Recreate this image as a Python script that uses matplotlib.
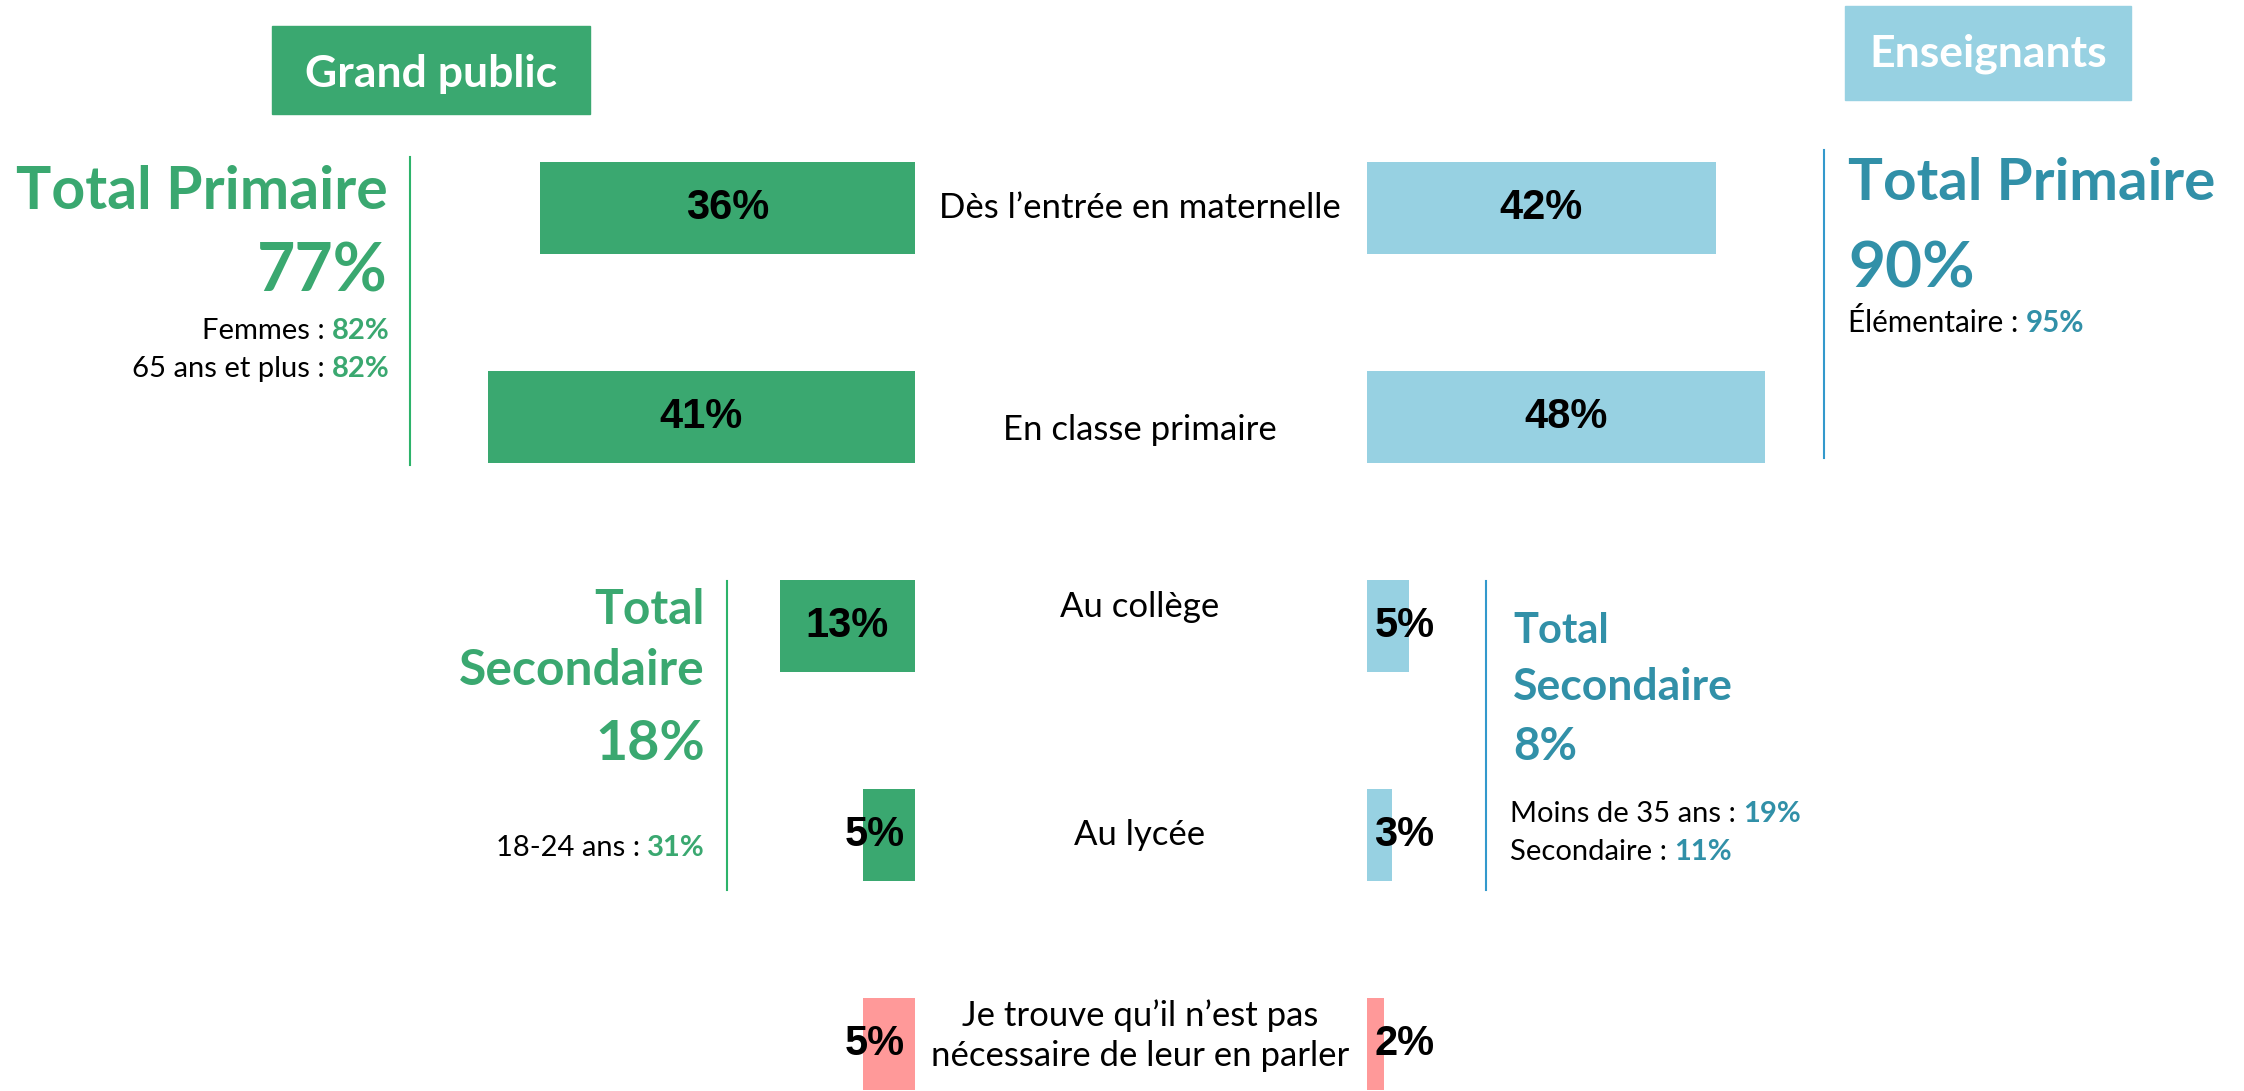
import matplotlib
matplotlib.use("Agg")
import matplotlib.pyplot as plt
from matplotlib.lines import Line2D
from matplotlib.transforms import blended_transform_factory

# survey answers, one row per moment
categories = [
    "Dès l’entrée en maternelle",
    "En classe primaire",
    "Au collège",
    "Au lycée",
    "Je trouve qu’il n’est pas\nnécessaire de leur en parler",
]
grand_public = [36, 41, 13, 5, 5]
enseignants = [42, 48, 5, 3, 2]

GREEN = "#3AA870"
GREEN_LINE = "#2DB36A"
BLUE = "#97D1E2"
TEAL = "#3190A8"
BLUE_LINE = "#3399CC"
PINK = "#FF9999"

TEXT_FONT = ["Lato", "DejaVu Sans"]
LABEL_FONT = ["Liberation Sans", "DejaVu Sans"]

W, H = 2244, 1091


def fx(x):
    return x / W


def fy(y):
    return 1 - y / H


def split_text(fig, x, y, prefix, value, color, size, align="right"):
    # "prefix : " in black followed by a bold coloured value
    if align == "right":
        t = fig.text(fx(x), fy(y), value, ha="right", va="bottom", color=color,
                     fontsize=size, fontweight="bold", family=TEXT_FONT)
        fig.add_artist(plt.Annotation(prefix, xy=(0, 0), xycoords=t, ha="right", va="bottom",
                                      fontsize=size, family=TEXT_FONT, color="black"))
    else:
        t = fig.text(fx(x), fy(y), prefix, ha="left", va="bottom", color="black",
                     fontsize=size, family=TEXT_FONT)
        fig.add_artist(plt.Annotation(value, xy=(1, 0), xycoords=t, ha="left", va="bottom",
                                      fontsize=size, fontweight="bold", family=TEXT_FONT,
                                      color=color))


def main():
    fig = plt.figure(figsize=(W / 100, H / 100), dpi=100)
    rows = list(range(len(categories)))
    ylim = (4.225, -0.995)

    # left chart: grand public, bars grow leftwards from x=915 px
    ax_gp = fig.add_axes([0, 0, fx(915), 1])
    colors_gp = [GREEN] * 4 + [PINK]
    ax_gp.barh(rows, grand_public, height=0.44, color=colors_gp)
    ax_gp.set_xlim(915 / 10.42, 0)
    ax_gp.set_ylim(*ylim)
    ax_gp.axis("off")
    for r, v in zip(rows, grand_public):
        if v >= 10:
            ax_gp.text(v / 2, r, f"{v}%", ha="center", va="center", fontsize=30,
                       fontweight="bold", family=LABEL_FONT)
        else:
            ax_gp.text(1.0, r, f"{v}%", ha="right", va="center", fontsize=30,
                       fontweight="bold", family=LABEL_FONT)

    # right chart: enseignants, bars grow rightwards from x=1367 px
    ax_en = fig.add_axes([fx(1367), 0, 1 - fx(1367), 1])
    colors_en = [BLUE] * 4 + [PINK]
    ax_en.barh(rows, enseignants, height=0.44, color=colors_en)
    ax_en.set_xlim(0, (W - 1367) / 8.3)
    ax_en.set_ylim(*ylim)
    ax_en.axis("off")
    for r, v in zip(rows, enseignants):
        if v >= 10:
            ax_en.text(v / 2, r, f"{v}%", ha="center", va="center", fontsize=30,
                       fontweight="bold", family=LABEL_FONT)
        else:
            ax_en.text(0.9, r, f"{v}%", ha="left", va="center", fontsize=30,
                       fontweight="bold", family=LABEL_FONT)

    # category labels in the middle
    trans = blended_transform_factory(fig.transFigure, ax_gp.transData)
    label_shift = [0.0, 0.06, -0.09, 0.0, -0.04]
    for r, name, dy in zip(rows, categories, label_shift):
        fig.text(fx(1140), r + dy, name, transform=trans, ha="center", va="center",
                 fontsize=25, family=TEXT_FONT, linespacing=1.3)

    # headers
    fig.add_artist(plt.Rectangle((fx(272), fy(114)), fx(318), 88 / H, color=GREEN,
                                 transform=fig.transFigure))
    fig.text(fx(431), fy(87), "Grand public", ha="center", va="baseline", color="white",
             fontsize=32, fontweight="bold", family=TEXT_FONT)
    fig.add_artist(plt.Rectangle((fx(1845), fy(100)), fx(286), 94 / H, color=BLUE,
                                 transform=fig.transFigure))
    fig.text(fx(1988), fy(67), "Enseignants", ha="center", va="baseline", color="white",
             fontsize=32, fontweight="bold", family=TEXT_FONT)

    # separators
    for x, y0, y1, c in [(410, 157, 465, GREEN_LINE), (727, 581, 890, GREEN_LINE),
                         (1824, 150, 458, BLUE_LINE), (1486, 581, 890, BLUE_LINE)]:
        fig.add_artist(Line2D([fx(x), fx(x)], [fy(y0), fy(y1)], color=c, lw=1.5,
                              transform=fig.transFigure))

    # grand public totals
    fig.text(fx(388), fy(209), "Total Primaire", ha="right", va="baseline", color=GREEN,
             fontsize=42.5, fontweight="bold", family=TEXT_FONT)
    fig.text(fx(388), fy(292), "77%", ha="right", va="baseline", color=GREEN,
             fontsize=47.5, fontweight="bold", family=TEXT_FONT)
    split_text(fig, 390, 344, "Femmes : ", "82%", GREEN, 21)
    split_text(fig, 390, 382, "65 ans et plus : ", "82%", GREEN, 21)

    fig.text(fx(705), fy(624), "Total", ha="right", va="baseline", color=GREEN,
             fontsize=34.5, fontweight="bold", family=TEXT_FONT)
    fig.text(fx(705), fy(685), "Secondaire", ha="right", va="baseline", color=GREEN,
             fontsize=35.8, fontweight="bold", family=TEXT_FONT)
    fig.text(fx(705), fy(760), "18%", ha="right", va="baseline", color=GREEN,
             fontsize=40, fontweight="bold", family=TEXT_FONT)
    split_text(fig, 705, 861, "18-24 ans : ", "31%", GREEN, 21)

    # enseignants totals
    fig.text(fx(1848), fy(200), "Total Primaire", ha="left", va="baseline", color=TEAL,
             fontsize=42, fontweight="bold", family=TEXT_FONT)
    fig.text(fx(1848), fy(288), "90%", ha="left", va="baseline", color=TEAL,
             fontsize=46, fontweight="bold", family=TEXT_FONT)
    split_text(fig, 1848, 337, "Élémentaire : ", "95%", TEAL, 21.3, align="left")

    fig.text(fx(1513), fy(643), "Total", ha="left", va="baseline", color=TEAL,
             fontsize=30, fontweight="bold", family=TEXT_FONT)
    fig.text(fx(1513), fy(700), "Secondaire", ha="left", va="baseline", color=TEAL,
             fontsize=32, fontweight="bold", family=TEXT_FONT)
    fig.text(fx(1513), fy(760), "8%", ha="left", va="baseline", color=TEAL,
             fontsize=33, fontweight="bold", family=TEXT_FONT)
    split_text(fig, 1510, 827, "Moins de 35 ans : ", "19%", TEAL, 21, align="left")
    split_text(fig, 1510, 865, "Secondaire : ", "11%", TEAL, 21, align="left")

    fig.savefig("out.png", dpi=100, facecolor="white")


if __name__ == "__main__":
    main()
